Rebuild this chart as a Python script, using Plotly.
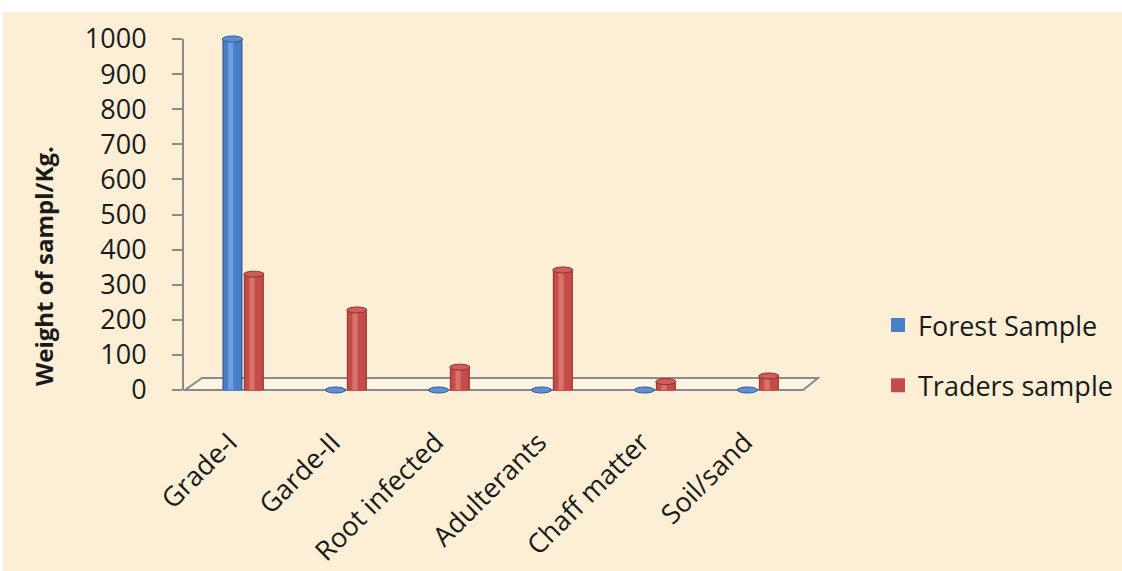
import plotly.graph_objects as go

# Sample composition by grade (weight in kg)
categories = ["Grade-I", "Garde-II", "Root infected", "Adulterants", "Chaff matter", "Soil/sand"]
forest_sample = [1000, 0, 0, 0, 0, 0]
traders_sample = [330, 228, 65, 342, 24, 40]
y_ticks = [0, 100, 200, 300, 400, 500, 600, 700, 800, 900, 1000]

FONT = "Open Sans"
TEXT = "#1a1a1a"
AXIS_GREY = "#8a8a8a"

# pixel geometry of the plot area (page is 1122 x 571)
W, H = 1122, 571
L, R, T, B = 183, 820, 32, 394
PX_PER_CAT = 103.0
Y_PX_PER_UNIT = 0.351
x_min = -(243 - L) / PX_PER_CAT
x_max = x_min + (R - L) / PX_PER_CAT
y_min = -(B - 390) / Y_PX_PER_UNIT
y_max = 1000 + (39 - T) / Y_PX_PER_UNIT

x_idx = list(range(len(categories)))
BAR_W = 0.195
LABEL_SHIFT = 0.13   # rotated labels sit a little left of each category centre

# cylinder look: dark body, mid band, highlight stripe
series = [
    dict(name="Forest Sample", values=forest_sample, offset=-0.200,
         shades=["#34619f", "#4a7fc6", "#6c9de0"], cap="#5d90d6", cap_line="#2f5891"),
    dict(name="Traders sample", values=traders_sample, offset=0.008,
         shades=["#a13936", "#c44c49", "#da726e"], cap="#d05d59", cap_line="#93322f"),
]

fig = go.Figure()
for s in series:
    layers = [(0.0, 1.0), (0.12, 0.76), (0.28, 0.26)]
    for k, ((start, frac), col) in enumerate(zip(layers, s["shades"])):
        fig.add_trace(go.Bar(
            x=x_idx, y=s["values"],
            width=BAR_W * frac,
            offset=s["offset"] + BAR_W * start,
            marker=dict(color=col, line=dict(width=2 if k == 1 else 0, color=col)),
            name=s["name"],
            legendgroup=s["name"],
            showlegend=(k == 1),
            hoverinfo="skip",
        ))

shapes = []
# page background: white margin band plus parchment fill
shapes.append(dict(type="rect", xref="paper", yref="paper",
                   x0=(3 - L) / (R - L), x1=(W - L) / (R - L) + 0.01,
                   y0=(B - H) / (B - T) - 0.01, y1=(B - 12) / (B - T),
                   fillcolor="#fcefd5", line=dict(width=0), layer="below"))

# floor of the chart
def px_to_x(px):
    return x_min + (px - L) / PX_PER_CAT

floor_back = (390 - 378) / Y_PX_PER_UNIT
floor_path = (f"M {px_to_x(185)},0 L {px_to_x(202)},{floor_back} "
              f"L {px_to_x(818)},{floor_back} L {px_to_x(803)},0 Z")
shapes.append(dict(type="path", xref="x", yref="y", path=floor_path,
                   fillcolor="#fdf4e4", line=dict(color=AXIS_GREY, width=2), layer="below"))
shapes.append(dict(type="line", xref="x", yref="y", x0=x_min, x1=px_to_x(185), y0=0, y1=0,
                   line=dict(color=AXIS_GREY, width=2), layer="below"))
# vertical value axis
shapes.append(dict(type="line", xref="paper", yref="y", x0=0, x1=0, y0=0, y1=1000,
                   line=dict(color=AXIS_GREY, width=2), layer="below"))

# elliptical caps on top of each cylinder
cap_half = 3.0 / Y_PX_PER_UNIT
for s in series:
    for i, v in zip(x_idx, s["values"]):
        x0 = i + s["offset"]
        shapes.append(dict(type="circle", xref="x", yref="y",
                           x0=x0, x1=x0 + BAR_W, y0=v - cap_half, y1=v + cap_half,
                           fillcolor=s["cap"], line=dict(color=s["cap_line"], width=1),
                           layer="above"))

fig.update_layout(
    width=W, height=H,
    margin=dict(l=L, r=W - R, t=T, b=H - B, pad=0, autoexpand=False),
    paper_bgcolor="#ffffff",
    plot_bgcolor="rgba(0,0,0,0)",
    barmode="overlay",
    font=dict(family=FONT, color=TEXT),
    shapes=shapes,
    showlegend=True,
    legend=dict(
        x=(878 - L) / (R - L), y=(B - 301) / (B - T),
        xanchor="left", yanchor="top",
        font=dict(family=FONT, size=27, color=TEXT),
        traceorder="grouped", tracegroupgap=22,
        bgcolor="rgba(0,0,0,0)",
    ),
    annotations=[dict(
        text="<b>Weight of sampl/Kg.</b>", textangle=-90,
        xref="paper", yref="paper",
        x=(43 - L) / (R - L), y=(B - 266) / (B - T),
        xanchor="center", yanchor="middle", showarrow=False,
        font=dict(family=FONT, size=24, color=TEXT),
    )],
)

fig.update_xaxes(
    range=[x_min, x_max], tickmode="array",
    tickvals=[i - LABEL_SHIFT for i in x_idx], ticktext=categories,
    tickangle=-45, tickfont=dict(family=FONT, size=27, color=TEXT),
    showgrid=False, zeroline=False, showline=False, ticks="", ticklabelstandoff=26,
    automargin=False,
)
fig.update_yaxes(
    range=[y_min, y_max], tickmode="array", tickvals=y_ticks,
    tickfont=dict(family=FONT, size=27, color=TEXT),
    showgrid=False, zeroline=False, showline=False,
    ticks="outside", ticklen=10, tickwidth=2, tickcolor=AXIS_GREY,
    ticklabelstandoff=20, automargin=False,
)

fig.write_html("out.html")
